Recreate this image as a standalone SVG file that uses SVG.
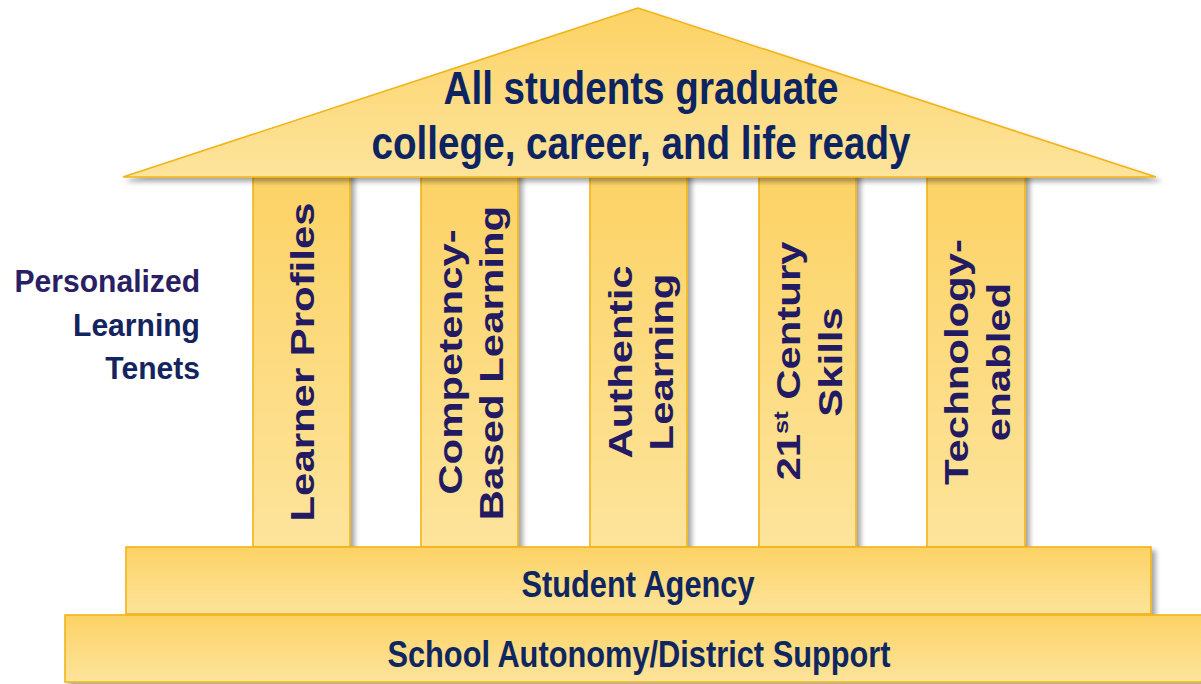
<svg xmlns="http://www.w3.org/2000/svg" width="1201" height="684" viewBox="0 0 1201 684">
  <defs>
    <linearGradient id="gold" x1="0" y1="0" x2="0" y2="1">
      <stop offset="0" stop-color="#FCD264"/>
      <stop offset="1" stop-color="#FDE49C"/>
    </linearGradient>
    <filter id="shadow" x="-5%" y="-5%" width="115%" height="120%">
      <feDropShadow dx="4" dy="4" stdDeviation="2.5" flood-color="#000" flood-opacity="0.35"/>
    </filter>
    <style>
      .shape { fill: url(#gold); stroke: #F1B418; stroke-width: 1.6; filter: url(#shadow); }
      text { font-family: "Liberation Sans", Arial, sans-serif; font-weight: bold; }
      .roof-t { font-size: 46px; fill: #0D2462; text-anchor: middle; }
      .pillar-t { font-size: 33px; fill: #221A62; text-anchor: middle; }
      .base-t { font-size: 36px; fill: #0F2760; text-anchor: middle; }
      .side-t { font-size: 32px; text-anchor: end; }
    </style>
  </defs>
  <rect width="1201" height="684" fill="#FFFFFF"/>

  <g id="pillar-learner-profiles">
    <rect class="shape" x="253" y="170" width="97" height="377"/>
    <text class="pillar-t" transform="translate(314,362) rotate(-90) scale(1.27,1)">Learner Profiles</text>
  </g>
  <g id="pillar-competency-based-learning">
    <rect class="shape" x="421" y="170" width="97" height="377"/>
    <text class="pillar-t" transform="translate(462,362) rotate(-90) scale(1.27,1)">Competency-</text>
    <text class="pillar-t" transform="translate(503,363) rotate(-90) scale(1.27,1)">Based Learning</text>
  </g>
  <g id="pillar-authentic-learning">
    <rect class="shape" x="590" y="170" width="97" height="377"/>
    <text class="pillar-t" transform="translate(632,362) rotate(-90) scale(1.27,1)">Authentic</text>
    <text class="pillar-t" transform="translate(673,362) rotate(-90) scale(1.27,1)">Learning</text>
  </g>
  <g id="pillar-21st-century-skills">
    <rect class="shape" x="759" y="170" width="97" height="377"/>
    <text class="pillar-t" transform="translate(800,361) rotate(-90) scale(1.27,1)">21<tspan font-size="20" dy="-12">st</tspan><tspan dy="12"> Century</tspan></text>
    <text class="pillar-t" transform="translate(842,362) rotate(-90) scale(1.27,1)">Skills</text>
  </g>
  <g id="pillar-technology-enabled">
    <rect class="shape" x="927" y="170" width="98" height="377"/>
    <text class="pillar-t" transform="translate(968,362) rotate(-90) scale(1.27,1)">Technology-</text>
    <text class="pillar-t" transform="translate(1010,362) rotate(-90) scale(1.27,1)">enabled</text>
  </g>

  <g id="student-agency">
    <rect class="shape" x="126" y="547" width="1025" height="67"/>
    <text class="base-t" transform="translate(638,597) scale(0.855,1)">Student Agency</text>
  </g>
  <g id="school-autonomy">
    <rect class="shape" x="65" y="615" width="1150" height="67"/>
    <text class="base-t" transform="translate(639,667) scale(0.855,1)">School Autonomy/District Support</text>
  </g>

  <g id="roof">
    <polygon class="shape" points="638,8 123,177 1156,177"/>
    <text class="roof-t" transform="translate(641,104) scale(0.84,1)">All students graduate</text>
    <text class="roof-t" transform="translate(641,159) scale(0.84,1)">college, career, and life ready</text>
  </g>

  <g id="tenets-label">
    <text class="side-t" fill="#2A1E64" transform="translate(200,292) scale(0.94,1)">Personalized</text>
    <text class="side-t" fill="#14245F" transform="translate(200,336) scale(0.94,1)">Learning</text>
    <text class="side-t" fill="#14245F" transform="translate(200,379) scale(0.94,1)">Tenets</text>
  </g>

  <g id="connectors"/>
</svg>
